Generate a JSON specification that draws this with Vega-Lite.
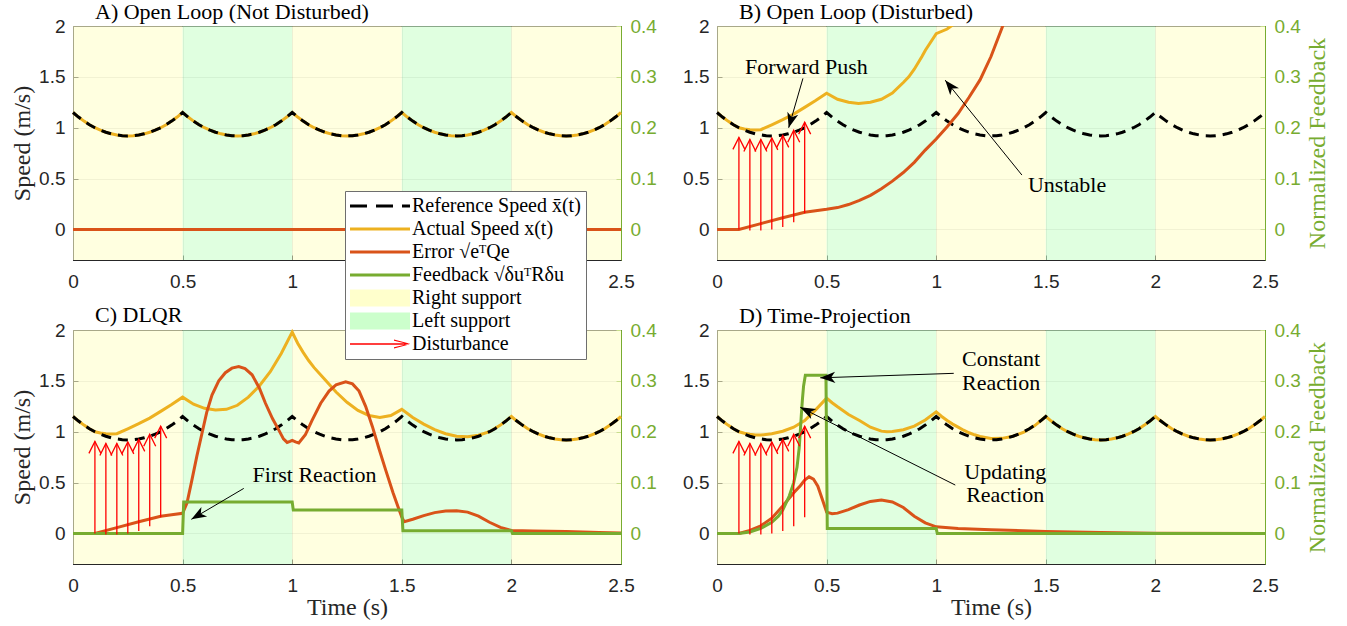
{
"$schema": "https://vega.github.io/schema/vega-lite/v6.json",
"background": "white",
"padding": {"left": 10, "top": 0, "right": 0, "bottom": 0},
"columns": 2,
"spacing": {"row": 70, "column": 96},
"bounds": "flush",
"resolve": {"scale": {"color": "independent"}, "legend": {"color": "independent"}},
"datasets": {
"ref": [{"t":0,"v":1.15},{"t":0.025,"v":1.105},{"t":0.05,"v":1.065},{"t":0.075,"v":1.03},{"t":0.1,"v":1.0},{"t":0.125,"v":0.976},{"t":0.15,"v":0.956},{"t":0.175,"v":0.94},{"t":0.2,"v":0.929},{"t":0.225,"v":0.922},{"t":0.25,"v":0.92},{"t":0.275,"v":0.922},{"t":0.3,"v":0.929},{"t":0.325,"v":0.94},{"t":0.35,"v":0.956},{"t":0.375,"v":0.976},{"t":0.4,"v":1.0},{"t":0.425,"v":1.03},{"t":0.45,"v":1.065},{"t":0.475,"v":1.105},
{"t":0.5,"v":1.15},{"t":0.525,"v":1.105},{"t":0.55,"v":1.065},{"t":0.575,"v":1.03},{"t":0.6,"v":1.0},{"t":0.625,"v":0.976},{"t":0.65,"v":0.956},{"t":0.675,"v":0.94},{"t":0.7,"v":0.929},{"t":0.725,"v":0.922},{"t":0.75,"v":0.92},{"t":0.775,"v":0.922},{"t":0.8,"v":0.929},{"t":0.825,"v":0.94},{"t":0.85,"v":0.956},{"t":0.875,"v":0.976},{"t":0.9,"v":1.0},{"t":0.925,"v":1.03},{"t":0.95,"v":1.065},{"t":0.975,"v":1.105},
{"t":1.0,"v":1.15},{"t":1.025,"v":1.105},{"t":1.05,"v":1.065},{"t":1.075,"v":1.03},{"t":1.1,"v":1.0},{"t":1.125,"v":0.976},{"t":1.15,"v":0.956},{"t":1.175,"v":0.94},{"t":1.2,"v":0.929},{"t":1.225,"v":0.922},{"t":1.25,"v":0.92},{"t":1.275,"v":0.922},{"t":1.3,"v":0.929},{"t":1.325,"v":0.94},{"t":1.35,"v":0.956},{"t":1.375,"v":0.976},{"t":1.4,"v":1.0},{"t":1.425,"v":1.03},{"t":1.45,"v":1.065},{"t":1.475,"v":1.105},
{"t":1.5,"v":1.15},{"t":1.525,"v":1.105},{"t":1.55,"v":1.065},{"t":1.575,"v":1.03},{"t":1.6,"v":1.0},{"t":1.625,"v":0.976},{"t":1.65,"v":0.956},{"t":1.675,"v":0.94},{"t":1.7,"v":0.929},{"t":1.725,"v":0.922},{"t":1.75,"v":0.92},{"t":1.775,"v":0.922},{"t":1.8,"v":0.929},{"t":1.825,"v":0.94},{"t":1.85,"v":0.956},{"t":1.875,"v":0.976},{"t":1.9,"v":1.0},{"t":1.925,"v":1.03},{"t":1.95,"v":1.065},{"t":1.975,"v":1.105},
{"t":2.0,"v":1.15},{"t":2.025,"v":1.105},{"t":2.05,"v":1.065},{"t":2.075,"v":1.03},{"t":2.1,"v":1.0},{"t":2.125,"v":0.976},{"t":2.15,"v":0.956},{"t":2.175,"v":0.94},{"t":2.2,"v":0.929},{"t":2.225,"v":0.922},{"t":2.25,"v":0.92},{"t":2.275,"v":0.922},{"t":2.3,"v":0.929},{"t":2.325,"v":0.94},{"t":2.35,"v":0.956},{"t":2.375,"v":0.976},{"t":2.4,"v":1.0},{"t":2.425,"v":1.03},{"t":2.45,"v":1.065},{"t":2.475,"v":1.105},{"t":2.5,"v":1.15}],
"bands": [{"a":0,"b":0.5,"s":"rs"},{"a":0.5,"b":1.0,"s":"ls"},{"a":1.0,"b":1.5,"s":"rs"},{"a":1.5,"b":2.0,"s":"ls"},{"a":2.0,"b":2.5,"s":"rs"}],
"dist": [{"t":0.1,"y0":0,"y1":0.905},{"t":0.15,"y0":-0.01,"y1":0.885},{"t":0.2,"y0":-0.01,"y1":0.885},{"t":0.25,"y0":0,"y1":0.9},{"t":0.3,"y0":0.025,"y1":0.925},{"t":0.35,"y0":0.07,"y1":0.975},{"t":0.4,"y0":0.16,"y1":1.055}],
"errA": [{"t":0,"v":0},{"t":2.5,"v":0}],
"actB": [{"t":0,"v":1.15},{"t":0.025,"v":1.105},{"t":0.05,"v":1.065},{"t":0.075,"v":1.03},{"t":0.1,"v":1.0},{"t":0.125,"v":0.988},{"t":0.15,"v":0.981},{"t":0.175,"v":0.978},{"t":0.2,"v":0.981},{"t":0.25,"v":1.029},{"t":0.3,"v":1.079},{"t":0.35,"v":1.134},{"t":0.4,"v":1.2},{"t":0.45,"v":1.267},{"t":0.5,"v":1.34},{"t":0.55,"v":1.28},{"t":0.6,"v":1.25},{"t":0.646,"v":1.239},{"t":0.7,"v":1.25},{"t":0.75,"v":1.28},{"t":0.8,"v":1.34},{"t":0.85,"v":1.445},{"t":0.875,"v":1.5},{"t":0.9,"v":1.575},{"t":0.935,"v":1.7},{"t":0.95,"v":1.76},{"t":1.0,"v":1.925},{"t":1.05,"v":1.97},{"t":1.1,"v":2.05}],
"errB": [{"t":0,"v":0},{"t":0.1,"v":0},{"t":0.2,"v":0.058},{"t":0.3,"v":0.115},{"t":0.4,"v":0.17},{"t":0.45,"v":0.185},{"t":0.5,"v":0.198},{"t":0.55,"v":0.215},{"t":0.6,"v":0.245},{"t":0.65,"v":0.285},{"t":0.7,"v":0.335},{"t":0.75,"v":0.4},{"t":0.8,"v":0.475},{"t":0.85,"v":0.56},{"t":0.9,"v":0.66},{"t":0.95,"v":0.78},{"t":1.0,"v":0.89},{"t":1.05,"v":1.01},{"t":1.1,"v":1.14},{"t":1.15,"v":1.3},{"t":1.2,"v":1.47},{"t":1.25,"v":1.7},{"t":1.3,"v":1.98},{"t":1.33,"v":2.15}],
"actC": [{"t":0,"v":1.15},{"t":0.025,"v":1.105},{"t":0.05,"v":1.065},{"t":0.075,"v":1.03},{"t":0.1,"v":1.0},{"t":0.125,"v":0.988},{"t":0.15,"v":0.981},{"t":0.175,"v":0.978},{"t":0.2,"v":0.981},{"t":0.25,"v":1.029},{"t":0.3,"v":1.079},{"t":0.35,"v":1.134},{"t":0.4,"v":1.2},{"t":0.45,"v":1.267},{"t":0.5,"v":1.34},{"t":0.55,"v":1.27},{"t":0.6,"v":1.23},{"t":0.65,"v":1.213},{"t":0.7,"v":1.22},{"t":0.75,"v":1.26},{"t":0.8,"v":1.34},{"t":0.85,"v":1.45},{"t":0.9,"v":1.59},{"t":0.95,"v":1.77},{"t":1.0,"v":1.98},{"t":1.025,"v":1.87},{"t":1.05,"v":1.78},{"t":1.075,"v":1.7},{"t":1.1,"v":1.63},{"t":1.15,"v":1.51},{"t":1.2,"v":1.39},{"t":1.25,"v":1.29},{"t":1.3,"v":1.21},{"t":1.35,"v":1.16},{"t":1.4,"v":1.14},{"t":1.45,"v":1.16},{"t":1.5,"v":1.22},{"t":1.55,"v":1.14},{"t":1.6,"v":1.075},{"t":1.65,"v":1.02},{"t":1.7,"v":0.98},{"t":1.75,"v":0.955},{"t":1.8,"v":0.95},{"t":1.85,"v":0.965},{"t":1.9,"v":1.0},{"t":1.95,"v":1.065},{"t":2.0,"v":1.15},{"t":2.025,"v":1.105},{"t":2.05,"v":1.065},{"t":2.075,"v":1.03},{"t":2.1,"v":1.0},{"t":2.125,"v":0.976},{"t":2.15,"v":0.956},{"t":2.175,"v":0.94},{"t":2.2,"v":0.929},{"t":2.225,"v":0.922},{"t":2.25,"v":0.92},{"t":2.275,"v":0.922},{"t":2.3,"v":0.929},{"t":2.325,"v":0.94},{"t":2.35,"v":0.956},{"t":2.375,"v":0.976},{"t":2.4,"v":1.0},{"t":2.425,"v":1.03},{"t":2.45,"v":1.065},{"t":2.475,"v":1.105},{"t":2.5,"v":1.15}],
"errC": [{"t":0,"v":0},{"t":0.1,"v":0},{"t":0.2,"v":0.058},{"t":0.3,"v":0.115},{"t":0.4,"v":0.17},{"t":0.45,"v":0.185},{"t":0.5,"v":0.198},{"t":0.52,"v":0.3},{"t":0.54,"v":0.5},{"t":0.565,"v":0.76},{"t":0.588,"v":0.98},{"t":0.61,"v":1.19},{"t":0.634,"v":1.36},{"t":0.665,"v":1.5},{"t":0.695,"v":1.58},{"t":0.725,"v":1.625},{"t":0.756,"v":1.64},{"t":0.785,"v":1.62},{"t":0.817,"v":1.56},{"t":0.85,"v":1.43},{"t":0.878,"v":1.28},{"t":0.91,"v":1.13},{"t":0.939,"v":1.016},{"t":0.96,"v":0.93},{"t":0.977,"v":0.895},{"t":0.99,"v":0.905},{"t":1.0,"v":0.915},{"t":1.015,"v":0.9},{"t":1.03,"v":0.89},{"t":1.06,"v":0.97},{"t":1.09,"v":1.11},{"t":1.13,"v":1.28},{"t":1.168,"v":1.4},{"t":1.2,"v":1.46},{"t":1.244,"v":1.49},{"t":1.275,"v":1.47},{"t":1.305,"v":1.4},{"t":1.335,"v":1.25},{"t":1.366,"v":1.05},{"t":1.395,"v":0.84},{"t":1.427,"v":0.62},{"t":1.46,"v":0.4},{"t":1.488,"v":0.23},{"t":1.5,"v":0.16},{"t":1.511,"v":0.115},{"t":1.55,"v":0.14},{"t":1.6,"v":0.175},{"t":1.65,"v":0.205},{"t":1.7,"v":0.22},{"t":1.75,"v":0.223},{"t":1.8,"v":0.21},{"t":1.85,"v":0.17},{"t":1.9,"v":0.11},{"t":1.95,"v":0.06},{"t":2.0,"v":0.03},{"t":2.1,"v":0.025},{"t":2.25,"v":0.02},{"t":2.4,"v":0.01},{"t":2.5,"v":0.005}],
"fbC": [{"t":0,"f":0},{"t":0.5,"f":0},{"t":0.505,"f":0.062},{"t":1.0,"f":0.062},{"t":1.005,"f":0.046},{"t":1.5,"f":0.046},{"t":1.505,"f":0.0055},{"t":2.0,"f":0.0055},{"t":2.005,"f":0},{"t":2.5,"f":0}],
"actD": [{"t":0,"v":1.15},{"t":0.025,"v":1.105},{"t":0.05,"v":1.065},{"t":0.075,"v":1.03},{"t":0.1,"v":1.0},{"t":0.125,"v":0.985},{"t":0.15,"v":0.975},{"t":0.175,"v":0.968},{"t":0.2,"v":0.967},{"t":0.25,"v":0.98},{"t":0.3,"v":1.005},{"t":0.35,"v":1.045},{"t":0.4,"v":1.11},{"t":0.45,"v":1.215},{"t":0.5,"v":1.33},{"t":0.525,"v":1.285},{"t":0.55,"v":1.245},{"t":0.6,"v":1.17},{"t":0.65,"v":1.11},{"t":0.7,"v":1.045},{"t":0.75,"v":1.006},{"t":0.775,"v":1.0},{"t":0.8,"v":1.003},{"t":0.85,"v":1.02},{"t":0.9,"v":1.055},{"t":0.95,"v":1.115},{"t":1.0,"v":1.195},{"t":1.025,"v":1.15},{"t":1.05,"v":1.11},{"t":1.075,"v":1.075},{"t":1.1,"v":1.045},{"t":1.125,"v":1.015},{"t":1.15,"v":0.99},{"t":1.175,"v":0.97},{"t":1.2,"v":0.953},{"t":1.25,"v":0.934},{"t":1.3,"v":0.935},{"t":1.35,"v":0.955},{"t":1.4,"v":0.995},{"t":1.45,"v":1.06},{"t":1.5,"v":1.15},{"t":1.525,"v":1.105},{"t":1.55,"v":1.065},{"t":1.575,"v":1.03},{"t":1.6,"v":1.0},{"t":1.625,"v":0.976},{"t":1.65,"v":0.956},{"t":1.675,"v":0.94},{"t":1.7,"v":0.929},{"t":1.725,"v":0.922},{"t":1.75,"v":0.92},{"t":1.775,"v":0.922},{"t":1.8,"v":0.929},{"t":1.825,"v":0.94},{"t":1.85,"v":0.956},{"t":1.875,"v":0.976},{"t":1.9,"v":1.0},{"t":1.925,"v":1.03},{"t":1.95,"v":1.065},{"t":1.975,"v":1.105},{"t":2.0,"v":1.15},{"t":2.025,"v":1.105},{"t":2.05,"v":1.065},{"t":2.075,"v":1.03},{"t":2.1,"v":1.0},{"t":2.125,"v":0.976},{"t":2.15,"v":0.956},{"t":2.175,"v":0.94},{"t":2.2,"v":0.929},{"t":2.225,"v":0.922},{"t":2.25,"v":0.92},{"t":2.275,"v":0.922},{"t":2.3,"v":0.929},{"t":2.325,"v":0.94},{"t":2.35,"v":0.956},{"t":2.375,"v":0.976},{"t":2.4,"v":1.0},{"t":2.425,"v":1.03},{"t":2.45,"v":1.065},{"t":2.475,"v":1.105},{"t":2.5,"v":1.15}],
"errD": [{"t":0,"v":0},{"t":0.1,"v":0},{"t":0.15,"v":0.03},{"t":0.2,"v":0.075},{"t":0.25,"v":0.15},{"t":0.3,"v":0.27},{"t":0.35,"v":0.4},{"t":0.38,"v":0.47},{"t":0.4,"v":0.525},{"t":0.42,"v":0.557},{"t":0.44,"v":0.535},{"t":0.46,"v":0.465},{"t":0.48,"v":0.34},{"t":0.5,"v":0.21},{"t":0.525,"v":0.195},{"t":0.55,"v":0.2},{"t":0.6,"v":0.235},{"t":0.65,"v":0.28},{"t":0.7,"v":0.315},{"t":0.75,"v":0.328},{"t":0.8,"v":0.31},{"t":0.85,"v":0.255},{"t":0.9,"v":0.17},{"t":0.95,"v":0.105},{"t":1.0,"v":0.065},{"t":1.1,"v":0.05},{"t":1.25,"v":0.037},{"t":1.5,"v":0.02},{"t":1.75,"v":0.01},{"t":2.0,"v":0.003},{"t":2.5,"v":0}],
"fbD": [{"t":0,"f":0},{"t":0.1,"f":0},{"t":0.15,"f":0.003},{"t":0.2,"f":0.01},{"t":0.25,"f":0.022},{"t":0.28,"f":0.034},{"t":0.3,"f":0.046},{"t":0.33,"f":0.074},{"t":0.35,"f":0.1},{"t":0.365,"f":0.13},{"t":0.375,"f":0.168},{"t":0.38,"f":0.2},{"t":0.385,"f":0.235},{"t":0.39,"f":0.265},{"t":0.395,"f":0.29},{"t":0.403,"f":0.311},{"t":0.497,"f":0.311},{"t":0.503,"f":0.01},{"t":1.0,"f":0.01},{"t":1.005,"f":0},{"t":2.5,"f":0}]
},
"concat": [
{
 "width": 548, "height": 234,
 "title": {"text": "A) Open Loop (Not Disturbed)"},
 "resolve": {"scale": {"y": "independent"}},
 "layer": [
  {"layer": [
   {"data": {"name": "bands"}, "mark": {"type": "rect", "opacity": 0.6},
    "encoding": {"x": {"field": "a", "type": "quantitative", "scale": {"domain": [0, 2.5], "nice": false, "zero": false}, "axis": {"values": [0, 0.5, 1, 1.5, 2, 2.5], "title": null, "labelPadding": 17}},
     "x2": {"field": "b"},
     "color": {"field": "s", "type": "nominal", "scale": {"domain": ["rs", "ls"], "range": ["#FFFFCC", "#CCFFCC"]}, "legend": null}}},
   {"data": {"name": "ref"}, "mark": {"type": "line", "color": "#EDB120", "strokeWidth": 3},
    "encoding": {"x": {"field": "t", "type": "quantitative"}, "y": {"field": "v", "type": "quantitative", "scale": {"domain": [-0.3, 2], "nice": false, "zero": false}, "axis": {"values": [0, 0.5, 1, 1.5, 2], "title": "Speed (m/s)", "labelPadding": 13, "titlePadding": 4}}}},
   {"data": {"name": "ref"}, "mark": {"type": "line", "color": "#000000", "strokeWidth": 3, "strokeDash": [10, 7]},
    "encoding": {"x": {"field": "t", "type": "quantitative"}, "y": {"field": "v", "type": "quantitative"}}},
   {"data": {"name": "errA"}, "mark": {"type": "line", "color": "#D95319", "strokeWidth": 3},
    "encoding": {"x": {"field": "t", "type": "quantitative"}, "y": {"field": "v", "type": "quantitative"}}}
  ]},
  {"data": {"values": [{}]}, "mark": {"type": "rule", "opacity": 0},
   "encoding": {"y": {"datum": 0, "type": "quantitative", "scale": {"domain": [-0.06, 0.4], "nice": false, "zero": false}, "axis": {"orient": "right", "values": [0, 0.1, 0.2, 0.3, 0.4], "grid": false, "title": null, "labelPadding": 14, "labelColor": "#77AC30", "domainColor": "#77AC30", "tickColor": "#77AC30"}}}}
 ]
},
{
 "width": 548, "height": 234,
 "title": {"text": "B) Open Loop (Disturbed)"},
 "resolve": {"scale": {"y": "independent"}},
 "layer": [
  {"layer": [
   {"data": {"name": "bands"}, "mark": {"type": "rect", "opacity": 0.6},
    "encoding": {"x": {"field": "a", "type": "quantitative", "scale": {"domain": [0, 2.5], "nice": false, "zero": false}, "axis": {"values": [0, 0.5, 1, 1.5, 2, 2.5], "title": null, "labelPadding": 17}},
     "x2": {"field": "b"},
     "color": {"field": "s", "type": "nominal", "scale": {"domain": ["rs", "ls"], "range": ["#FFFFCC", "#CCFFCC"]}, "legend": null}}},
   {"data": {"name": "actB"}, "mark": {"type": "line", "color": "#EDB120", "strokeWidth": 3, "clip": true},
    "encoding": {"x": {"field": "t", "type": "quantitative"}, "y": {"field": "v", "type": "quantitative", "scale": {"domain": [-0.3, 2], "nice": false, "zero": false}, "axis": {"values": [0, 0.5, 1, 1.5, 2], "title": null, "labelPadding": 13}}}},
   {"data": {"name": "ref"}, "mark": {"type": "line", "color": "#000000", "strokeWidth": 3, "strokeDash": [10, 7]},
    "encoding": {"x": {"field": "t", "type": "quantitative"}, "y": {"field": "v", "type": "quantitative"}}},
   {"data": {"name": "errB"}, "mark": {"type": "line", "color": "#D95319", "strokeWidth": 3, "clip": true},
    "encoding": {"x": {"field": "t", "type": "quantitative"}, "y": {"field": "v", "type": "quantitative"}}}
  ]},
  {"data": {"values": [{}]}, "mark": {"type": "rule", "opacity": 0},
   "encoding": {"y": {"datum": 0, "type": "quantitative", "scale": {"domain": [-0.06, 0.4], "nice": false, "zero": false}, "axis": {"orient": "right", "values": [0, 0.1, 0.2, 0.3, 0.4], "grid": false, "title": "Normalized Feedback", "titleAngle": -90, "titleBaseline": "top", "titlePadding": 5, "titleColor": "#77AC30", "labelPadding": 14, "labelColor": "#77AC30", "domainColor": "#77AC30", "tickColor": "#77AC30"}}}},
  {"layer": [
   {"data": {"name": "dist"}, "mark": {"type": "rule", "color": "#FF0000", "strokeWidth": 1.3},
    "encoding": {"x": {"field": "t", "type": "quantitative"}, "y": {"field": "y0", "type": "quantitative", "scale": {"domain": [-0.3, 2], "nice": false, "zero": false}, "axis": null}, "y2": {"field": "y1"}}},
   {"data": {"name": "dist"}, "mark": {"type": "point", "shape": "M-1,2L0,0L1,2", "size": 144, "filled": false, "color": "#FF0000", "strokeWidth": 1.3, "opacity": 1},
    "encoding": {"x": {"field": "t", "type": "quantitative"}, "y": {"field": "y1", "type": "quantitative", "axis": null}}},
   {"data": {"values": [{"t": 0.392, "v": 1.485, "t2": 0.327, "v2": 1.0}, {"t": 1.391, "v": 0.535, "t2": 1.041, "v2": 1.468}]}, "mark": {"type": "rule", "color": "#000000", "strokeWidth": 1},
    "encoding": {"x": {"field": "t", "type": "quantitative"}, "y": {"field": "v", "type": "quantitative", "axis": null}, "x2": {"field": "t2"}, "y2": {"field": "v2"}}},
   {"data": {"values": [{"t": 0.327, "v": 1.0}]}, "mark": {"type": "point", "shape": "M0,0L-0.75,2L0,1.45L0.75,2Z", "size": 225, "filled": true, "color": "#000000", "opacity": 1, "angle": 196},
    "encoding": {"x": {"field": "t", "type": "quantitative"}, "y": {"field": "v", "type": "quantitative", "axis": null}}},
   {"data": {"values": [{"t": 1.041, "v": 1.468}]}, "mark": {"type": "point", "shape": "M0,0L-0.75,2L0,1.45L0.75,2Z", "size": 225, "filled": true, "color": "#000000", "opacity": 1, "angle": 321},
    "encoding": {"x": {"field": "t", "type": "quantitative"}, "y": {"field": "v", "type": "quantitative", "axis": null}}},
   {"data": {"values": [{"t": 0.408, "v": 1.6, "label": "Forward Push"}, {"t": 1.597, "v": 0.436, "label": "Unstable"}]}, "mark": {"type": "text", "font": "Liberation Serif", "fontSize": 22, "color": "#000000", "align": "center", "baseline": "middle"},
    "encoding": {"x": {"field": "t", "type": "quantitative"}, "y": {"field": "v", "type": "quantitative", "axis": null}, "text": {"field": "label"}}}
  ]}
 ]
},
{
 "width": 548, "height": 234,
 "title": {"text": "C) DLQR", "dy": 129},
 "resolve": {"scale": {"y": "independent"}},
 "layer": [
  {"layer": [
   {"data": {"name": "bands"}, "mark": {"type": "rect", "opacity": 0.6},
    "encoding": {"x": {"field": "a", "type": "quantitative", "scale": {"domain": [0, 2.5], "nice": false, "zero": false}, "axis": {"values": [0, 0.5, 1, 1.5, 2, 2.5], "title": "Time (s)", "labelPadding": 17, "titlePadding": 0}},
     "x2": {"field": "b"},
     "color": {"field": "s", "type": "nominal",
      "scale": {"domain": ["ref", "act", "err", "fb", "rs", "ls", "dist"], "range": ["#000000", "#EDB120", "#D95319", "#77AC30", "#FFFFCC", "#CCFFCC", "#FF0000"]},
      "legend": {"orient": "none", "legendX": 272, "legendY": -139, "direction": "vertical", "title": null,
       "fillColor": "#FFFFFF", "strokeColor": "#6E6E6E", "padding": 5,
       "labelFont": "Liberation Serif", "labelFontSize": 20, "labelColor": "#000000", "labelLimit": 400, "labelOffset": 42,
       "symbolSize": 400, "symbolStrokeWidth": 0, "symbolOpacity": 1, "rowPadding": 3,
       "symbolType": {"expr": "datum.value == 'rs' || datum.value == 'ls' ? 'M-1,-0.85H5V0.85H-1Z' : datum.value == 'ref' ? 'M-1,-0.15H0.7V0.15H-1Z M1.6,-0.15H3.3V0.15H1.6Z M4.2,-0.15H5V0.15H4.2Z' : datum.value == 'dist' ? 'M-1,-0.07H4.8V0.07H-1Z M3.4,-0.45L5,-0.02L5,0.06L3.4,-0.33Z M3.4,0.45L5,0.02L5,-0.06L3.4,0.33Z' : 'M-1,-0.15H5V0.15H-1Z'"},
       "labelExpr": "datum.value == 'ref' ? 'Reference Speed x̄(t)' : datum.value == 'act' ? 'Actual Speed x(t)' : datum.value == 'err' ? 'Error √eᵀQe' : datum.value == 'fb' ? 'Feedback √δuᵀRδu' : datum.value == 'rs' ? 'Right support' : datum.value == 'ls' ? 'Left support' : 'Disturbance'"}}}},
   {"data": {"name": "actC"}, "mark": {"type": "line", "color": "#EDB120", "strokeWidth": 3},
    "encoding": {"x": {"field": "t", "type": "quantitative"}, "y": {"field": "v", "type": "quantitative", "scale": {"domain": [-0.3, 2], "nice": false, "zero": false}, "axis": {"values": [0, 0.5, 1, 1.5, 2], "title": "Speed (m/s)", "labelPadding": 13, "titlePadding": 4}}}},
   {"data": {"name": "ref"}, "mark": {"type": "line", "color": "#000000", "strokeWidth": 3, "strokeDash": [10, 7]},
    "encoding": {"x": {"field": "t", "type": "quantitative"}, "y": {"field": "v", "type": "quantitative"}}},
   {"data": {"name": "errC"}, "mark": {"type": "line", "color": "#D95319", "strokeWidth": 3},
    "encoding": {"x": {"field": "t", "type": "quantitative"}, "y": {"field": "v", "type": "quantitative"}}}
  ]},
  {"data": {"name": "fbC"}, "mark": {"type": "line", "color": "#77AC30", "strokeWidth": 3},
   "encoding": {"x": {"field": "t", "type": "quantitative"}, "y": {"field": "f", "type": "quantitative", "scale": {"domain": [-0.06, 0.4], "nice": false, "zero": false}, "axis": {"orient": "right", "values": [0, 0.1, 0.2, 0.3, 0.4], "grid": false, "title": null, "labelPadding": 14, "labelColor": "#77AC30", "domainColor": "#77AC30", "tickColor": "#77AC30"}}}},
  {"layer": [
   {"data": {"name": "dist"}, "mark": {"type": "rule", "color": "#FF0000", "strokeWidth": 1.3},
    "encoding": {"x": {"field": "t", "type": "quantitative"}, "y": {"field": "y0", "type": "quantitative", "scale": {"domain": [-0.3, 2], "nice": false, "zero": false}, "axis": null}, "y2": {"field": "y1"}}},
   {"data": {"name": "dist"}, "mark": {"type": "point", "shape": "M-1,2L0,0L1,2", "size": 144, "filled": false, "color": "#FF0000", "strokeWidth": 1.3, "opacity": 1},
    "encoding": {"x": {"field": "t", "type": "quantitative"}, "y": {"field": "y1", "type": "quantitative", "axis": null}}},
   {"data": {"values": [{"t": 0.779, "v": 0.443, "t2": 0.54, "v2": 0.139}]}, "mark": {"type": "rule", "color": "#000000", "strokeWidth": 1},
    "encoding": {"x": {"field": "t", "type": "quantitative"}, "y": {"field": "v", "type": "quantitative", "axis": null}, "x2": {"field": "t2"}, "y2": {"field": "v2"}}},
   {"data": {"values": [{"t": 0.54, "v": 0.139}]}, "mark": {"type": "point", "shape": "M0,0L-0.75,2L0,1.45L0.75,2Z", "size": 225, "filled": true, "color": "#000000", "opacity": 1, "angle": 239.5},
    "encoding": {"x": {"field": "t", "type": "quantitative"}, "y": {"field": "v", "type": "quantitative", "axis": null}}},
   {"data": {"values": [{"t": 1.102, "v": 0.574, "label": "First Reaction"}]}, "mark": {"type": "text", "font": "Liberation Serif", "fontSize": 22, "color": "#000000", "align": "center", "baseline": "middle"},
    "encoding": {"x": {"field": "t", "type": "quantitative"}, "y": {"field": "v", "type": "quantitative", "axis": null}, "text": {"field": "label"}}}
  ]}
 ]
},
{
 "width": 548, "height": 234,
 "title": {"text": "D) Time-Projection"},
 "resolve": {"scale": {"y": "independent"}},
 "layer": [
  {"layer": [
   {"data": {"name": "bands"}, "mark": {"type": "rect", "opacity": 0.6},
    "encoding": {"x": {"field": "a", "type": "quantitative", "scale": {"domain": [0, 2.5], "nice": false, "zero": false}, "axis": {"values": [0, 0.5, 1, 1.5, 2, 2.5], "title": "Time (s)", "labelPadding": 17, "titlePadding": 0}},
     "x2": {"field": "b"},
     "color": {"field": "s", "type": "nominal", "scale": {"domain": ["rs", "ls"], "range": ["#FFFFCC", "#CCFFCC"]}, "legend": null}}},
   {"data": {"name": "actD"}, "mark": {"type": "line", "color": "#EDB120", "strokeWidth": 3},
    "encoding": {"x": {"field": "t", "type": "quantitative"}, "y": {"field": "v", "type": "quantitative", "scale": {"domain": [-0.3, 2], "nice": false, "zero": false}, "axis": {"values": [0, 0.5, 1, 1.5, 2], "title": null, "labelPadding": 13}}}},
   {"data": {"name": "ref"}, "mark": {"type": "line", "color": "#000000", "strokeWidth": 3, "strokeDash": [10, 7]},
    "encoding": {"x": {"field": "t", "type": "quantitative"}, "y": {"field": "v", "type": "quantitative"}}},
   {"data": {"name": "errD"}, "mark": {"type": "line", "color": "#D95319", "strokeWidth": 3},
    "encoding": {"x": {"field": "t", "type": "quantitative"}, "y": {"field": "v", "type": "quantitative"}}}
  ]},
  {"data": {"name": "fbD"}, "mark": {"type": "line", "color": "#77AC30", "strokeWidth": 3},
   "encoding": {"x": {"field": "t", "type": "quantitative"}, "y": {"field": "f", "type": "quantitative", "scale": {"domain": [-0.06, 0.4], "nice": false, "zero": false}, "axis": {"orient": "right", "values": [0, 0.1, 0.2, 0.3, 0.4], "grid": false, "title": "Normalized Feedback", "titleAngle": -90, "titleBaseline": "top", "titlePadding": 5, "titleColor": "#77AC30", "labelPadding": 14, "labelColor": "#77AC30", "domainColor": "#77AC30", "tickColor": "#77AC30"}}}},
  {"layer": [
   {"data": {"name": "dist"}, "mark": {"type": "rule", "color": "#FF0000", "strokeWidth": 1.3},
    "encoding": {"x": {"field": "t", "type": "quantitative"}, "y": {"field": "y0", "type": "quantitative", "scale": {"domain": [-0.3, 2], "nice": false, "zero": false}, "axis": null}, "y2": {"field": "y1"}}},
   {"data": {"name": "dist"}, "mark": {"type": "point", "shape": "M-1,2L0,0L1,2", "size": 144, "filled": false, "color": "#FF0000", "strokeWidth": 1.3, "opacity": 1},
    "encoding": {"x": {"field": "t", "type": "quantitative"}, "y": {"field": "y1", "type": "quantitative", "axis": null}}},
   {"data": {"values": [{"t": 1.08, "v": 1.574, "t2": 0.471, "v2": 1.53}, {"t": 1.087, "v": 0.476, "t2": 0.38, "v2": 1.24}]}, "mark": {"type": "rule", "color": "#000000", "strokeWidth": 1},
    "encoding": {"x": {"field": "t", "type": "quantitative"}, "y": {"field": "v", "type": "quantitative", "axis": null}, "x2": {"field": "t2"}, "y2": {"field": "v2"}}},
   {"data": {"values": [{"t": 0.471, "v": 1.53}]}, "mark": {"type": "point", "shape": "M0,0L-0.75,2L0,1.45L0.75,2Z", "size": 225, "filled": true, "color": "#000000", "opacity": 1, "angle": 268},
    "encoding": {"x": {"field": "t", "type": "quantitative"}, "y": {"field": "v", "type": "quantitative", "axis": null}}},
   {"data": {"values": [{"t": 0.38, "v": 1.24}]}, "mark": {"type": "point", "shape": "M0,0L-0.75,2L0,1.45L0.75,2Z", "size": 225, "filled": true, "color": "#000000", "opacity": 1, "angle": 296.6},
    "encoding": {"x": {"field": "t", "type": "quantitative"}, "y": {"field": "v", "type": "quantitative", "axis": null}}},
   {"data": {"values": [{"t": 1.296, "v": 1.711, "label": "Constant"}, {"t": 1.296, "v": 1.475, "label": "Reaction"}, {"t": 1.315, "v": 0.606, "label": "Updating"}, {"t": 1.315, "v": 0.377, "label": "Reaction"}]}, "mark": {"type": "text", "font": "Liberation Serif", "fontSize": 22, "color": "#000000", "align": "center", "baseline": "middle"},
    "encoding": {"x": {"field": "t", "type": "quantitative"}, "y": {"field": "v", "type": "quantitative", "axis": null}, "text": {"field": "label"}}}
  ]}
 ]
}
],
"config": {
 "view": {"stroke": "#262626", "strokeWidth": 1},
 "axis": {"labelFont": "Liberation Sans", "labelFontSize": 19, "labelColor": "#262626", "titleFont": "Liberation Serif", "titleFontSize": 24, "titleFontWeight": "normal", "titleColor": "#262626", "domainColor": "#262626", "tickColor": "#262626", "gridColor": "#262626", "gridOpacity": 0.15, "tickSize": -5, "format": "~g", "labelFlush": false, "labelOverlap": false},
 "title": {"font": "Liberation Serif", "fontSize": 22, "fontWeight": "normal", "color": "#000000", "anchor": "start", "frame": "group", "dx": 22, "offset": -7}
}
}
